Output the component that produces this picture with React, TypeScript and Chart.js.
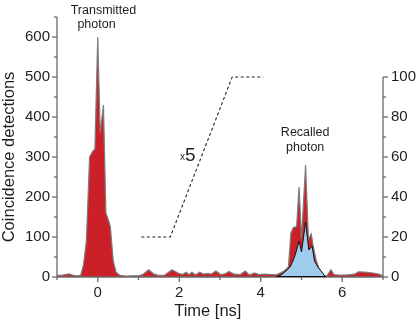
import React, { useEffect, useRef } from 'react';
import { Chart, registerables } from 'chart.js';

Chart.register(...registerables);

// Total coincidence detections (left axis), time in ns
const redTimes = [
  -1.0, -0.9, -0.8, -0.7, -0.62, -0.52, -0.42, -0.35, -0.28, -0.2, -0.12, -0.07, 0.0, 0.06, 0.14, 0.2, 0.27, 0.31,
  0.38, 0.45, 0.55, 0.7, 0.85, 1.0, 1.1, 1.25, 1.38, 1.5, 1.65, 1.82, 1.97, 2.08, 2.17, 2.24, 2.31, 2.4, 2.5, 2.6,
  2.7, 2.78, 2.9, 3.02, 3.13, 3.22, 3.35, 3.5, 3.62, 3.72, 3.85, 3.95, 4.1, 4.25, 4.4, 4.56, 4.68, 4.74, 4.8, 4.88,
  4.94, 5.0, 5.1, 5.17, 5.24, 5.29, 5.37, 5.45, 5.55, 5.62, 5.72, 5.8, 5.9, 6.1, 6.3, 6.4, 6.55, 6.75, 6.9, 7.0,
];
const redCounts = [
  4, 4, 6, 8, 5, 3, 4, 30, 90, 300, 315, 320, 600, 360, 430, 160, 140, 125,
  40, 12, 4, 2, 3, 3, 6, 18, 7, 4, 5, 18, 10, 6, 12, 6, 12, 5, 12, 7,
  9, 7, 15, 6, 8, 14, 7, 6, 15, 5, 10, 6, 7, 6, 6, 14, 25, 110, 124, 126,
  225, 95, 280, 95, 108, 75, 38, 17, 4, 2, 18, 6, 5, 5, 7, 13, 12, 10, 7, 3,
];

// Recalled photon (right axis)
const blueTimes = [4.38, 4.5, 4.62, 4.72, 4.8, 4.86, 4.94, 5.0, 5.1, 5.18, 5.26, 5.32, 5.4, 5.48, 5.56, 5.6];
const blueCounts = [0, 1, 3, 5, 8.5, 12, 18, 12.5, 27.5, 13.5, 15.5, 8, 5, 3, 0.8, 0];

// Dashed zoom indicator (right axis units)
const dashTimes = [1.07, 1.78, 3.3, 4.06];
const dashValues = [20, 20, 100, 100];

const xMajor = [0, 2, 4, 6];
const xMinor = [-1, 1, 3, 5, 7];
const leftMajor = [0, 100, 200, 300, 400, 500, 600];
const leftMinor = [50, 150, 250, 350, 450, 550, 650];
const rightMajor = [0, 20, 40, 60, 80, 100];
const rightMinor = [10, 30, 50, 70, 90];

const FONT = "'Liberation Sans', Arial, sans-serif";
const AXIS = '#6a6a6a';
const TEXT = '#1e1e1e';

const axesPlugin = {
  id: 'customAxes',
  afterDatasetsDraw(chart: any) {
    const { ctx, chartArea } = chart;
    const { left, right, top, bottom } = chartArea;
    const x = chart.scales.x;
    const y = chart.scales.y;
    const y2 = chart.scales.y2;
    ctx.save();
    ctx.strokeStyle = AXIS;
    ctx.lineWidth = 1.3;
    ctx.lineCap = 'butt';
    const seg = (x1: number, y1: number, x2: number, y2p: number) => {
      ctx.beginPath();
      ctx.moveTo(x1, y1);
      ctx.lineTo(x2, y2p);
      ctx.stroke();
    };
    seg(left - 0.5, bottom, right + 0.5, bottom);
    seg(left, bottom, left, top);
    seg(right, bottom, right, y2.getPixelForValue(100));
    xMajor.forEach((v) => { const p = x.getPixelForValue(v); seg(p, bottom, p, bottom + 5); });
    xMinor.forEach((v) => { const p = x.getPixelForValue(v); seg(p, bottom, p, bottom + 3); });
    leftMajor.forEach((v) => { const p = y.getPixelForValue(v); seg(left, p, left - 5, p); });
    leftMinor.forEach((v) => { const p = y.getPixelForValue(v); seg(left, p, left - 3, p); });
    rightMajor.forEach((v) => { const p = y2.getPixelForValue(v); seg(right, p, right + 5, p); });
    rightMinor.forEach((v) => { const p = y2.getPixelForValue(v); seg(right, p, right + 3, p); });

    // dark outline along the base of the recalled-photon area
    ctx.strokeStyle = '#111';
    ctx.lineWidth = 1;
    seg(x.getPixelForValue(blueTimes[0]), bottom - 0.5, x.getPixelForValue(blueTimes[blueTimes.length - 1]), bottom - 0.5);

    // annotations
    ctx.fillStyle = TEXT;
    ctx.textAlign = 'center';
    ctx.textBaseline = 'middle';
    ctx.font = `12.5px ${FONT}`;
    ctx.fillText('Transmitted', x.getPixelForValue(0.14), y.getPixelForValue(667));
    ctx.fillText('photon', x.getPixelForValue(-0.03), y.getPixelForValue(630));
    ctx.fillText('Recalled', x.getPixelForValue(5.09), y2.getPixelForValue(72));
    ctx.fillText('photon', x.getPixelForValue(5.09), y2.getPixelForValue(64.5));

    ctx.textAlign = 'left';
    ctx.textBaseline = 'alphabetic';
    const bx = x.getPixelForValue(2.02);
    const by = y2.getPixelForValue(58);
    ctx.font = `10px ${FONT}`;
    ctx.fillText('x', bx, by - 1);
    ctx.font = `19px ${FONT}`;
    ctx.fillText('5', bx + 5, by);

    // axis titles
    ctx.font = `16.5px ${FONT}`;
    ctx.textAlign = 'center';
    ctx.textBaseline = 'alphabetic';
    ctx.fillText('Time [ns]', x.getPixelForValue(2.7), 316);
    ctx.save();
    ctx.translate(13.5, y.getPixelForValue(300));
    ctx.rotate(-Math.PI / 2);
    ctx.fillText('Coincidence detections', 0, 0);
    ctx.restore();
    ctx.restore();
  },
};

export default function App() {
  const ref = useRef<HTMLCanvasElement>(null);
  useEffect(() => {
    document.body.style.margin = '0';
    const canvas = ref.current;
    if (!canvas) return;
    const chart = new Chart(canvas, {
      type: 'line',
      data: {
        datasets: [
          {
            label: 'Dashed',
            data: dashTimes.map((t, i) => ({ x: t, y: dashValues[i] })),
            yAxisID: 'y2',
            borderColor: '#222',
            borderWidth: 1.1,
            borderDash: [3, 2.5],
            fill: false,
            pointRadius: 0,
            order: 0,
          },
          {
            label: 'Recalled',
            data: blueTimes.map((t, i) => ({ x: t, y: blueCounts[i] })),
            yAxisID: 'y2',
            borderColor: '#111',
            borderWidth: 1,
            backgroundColor: '#9fcbec',
            fill: 'origin',
            pointRadius: 0,
            tension: 0,
            order: 1,
          },
          {
            label: 'Total',
            data: redTimes.map((t, i) => ({ x: t, y: redCounts[i] })),
            yAxisID: 'y',
            borderColor: '#7d7d7d',
            borderWidth: 1.2,
            backgroundColor: '#cc2029',
            fill: 'origin',
            pointRadius: 0,
            tension: 0,
            order: 2,
          },
        ],
      },
      options: {
        animation: false,
        responsive: false,
        events: [],
        layout: { padding: { top: 17, left: 0, right: 0, bottom: 0 } },
        plugins: { legend: { display: false }, tooltip: { enabled: false } },
        scales: {
          x: {
            type: 'linear',
            min: -1,
            max: 7,
            afterBuildTicks: (s: any) => { s.ticks = xMajor.map((v) => ({ value: v })); },
            afterFit: (s: any) => { s.height = 44; },
            grid: { display: false, drawTicks: true, tickLength: 5 },
            border: { display: false },
            ticks: { font: { family: FONT, size: 15 }, color: TEXT, padding: 2, maxRotation: 0 },
          },
          y: {
            position: 'left',
            min: 0,
            max: 650,
            afterBuildTicks: (s: any) => { s.ticks = leftMajor.map((v) => ({ value: v })); },
            afterFit: (s: any) => { s.width = 57; },
            grid: { display: false, drawTicks: true, tickLength: 5 },
            border: { display: false },
            ticks: { font: { family: FONT, size: 15 }, color: TEXT, padding: 2 },
          },
          y2: {
            position: 'right',
            min: 0,
            max: 130,
            afterBuildTicks: (s: any) => { s.ticks = rightMajor.map((v) => ({ value: v })); },
            afterFit: (s: any) => { s.width = 33; },
            grid: { display: false, drawTicks: true, tickLength: 5 },
            border: { display: false },
            ticks: { font: { family: FONT, size: 15 }, color: TEXT, padding: 3 },
          },
        },
      },
      plugins: [axesPlugin],
    } as any);
    return () => chart.destroy();
  }, []);
  return (
    <div style={{ width: 416, height: 321 }}>
      <canvas ref={ref} width={416} height={321} style={{ display: 'block' }} />
    </div>
  );
}
